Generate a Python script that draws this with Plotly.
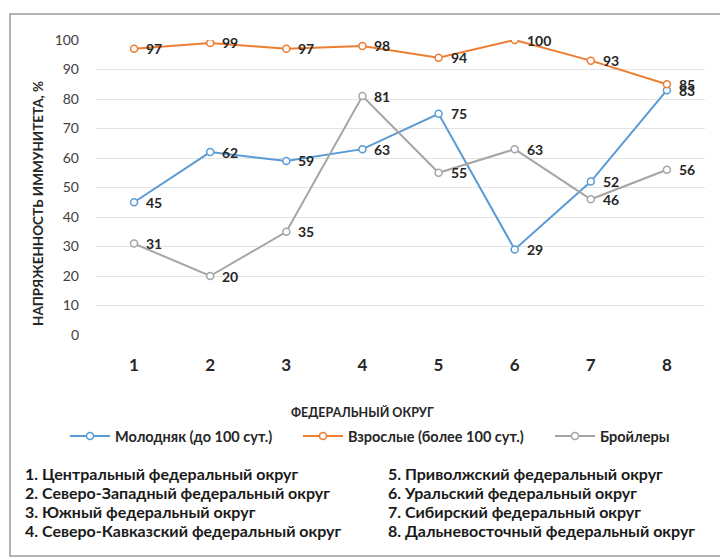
import plotly.graph_objects as go

# Federal districts (numbered) and immunity strength, %
districts = [1, 2, 3, 4, 5, 6, 7, 8]
young = [45, 62, 59, 63, 75, 29, 52, 83]
adult = [97, 99, 97, 98, 94, 100, 93, 85]
broilers = [31, 20, 35, 81, 55, 63, 46, 56]

series_names = ["Молодняк (до 100 сут.)", "Взрослые (более 100 сут.)", "Бройлеры"]
series_colors = ["#5B9BD5", "#ED7D31", "#A5A5A5"]

district_names = [
    "1. Центральный федеральный округ",
    "2. Северо-Западный федеральный округ",
    "3. Южный федеральный округ",
    "4. Северо-Кавказский федеральный округ",
    "5. Приволжский федеральный округ",
    "6. Уральский федеральный округ",
    "7. Сибирский федеральный округ",
    "8. Дальневосточный федеральный округ",
]

FONT = "Lato"
W, H = 720, 559
L, R, T, B = 96, 15, 40, 224
pw, ph = W - L - R, H - T - B


def px(x):
    return (x - L) / pw


def py(y):
    return (H - B - y) / ph


legend_ids = ["legend", "legend2", "legend3"]
legend_left = [65, 298, 550]

fig = go.Figure()
annotations = []
for name, vals, col, lg in zip(series_names, [young, adult, broilers], series_colors, legend_ids):
    fig.add_trace(go.Scatter(
        x=districts, y=vals, name=name, mode="lines+markers", legend=lg,
        line=dict(color=col, width=2),
        marker=dict(symbol="circle", size=7, color="white",
                    line=dict(color=col, width=1.5)),
    ))
    # value labels to the right of each point
    for d, v in zip(districts, vals):
        annotations.append(dict(
            x=d, y=v, xref="x", yref="y", text=str(v), showarrow=False,
            xanchor="left", yanchor="middle", xshift=10,
            font=dict(family=FONT, size=14, color="#262626", weight="bold"),
        ))

annotations.append(dict(
    text="НАПРЯЖЕННОСТЬ ИММУНИТЕТА, %", textangle=-90, x=px(38), y=py(204),
    xref="paper", yref="paper", showarrow=False, xanchor="center", yanchor="middle",
    font=dict(family=FONT, size=13.5, color="#262626", weight="bold")))
annotations.append(dict(
    text="ФЕДЕРАЛЬНЫЙ ОКРУГ", x=px(362), y=py(412), xref="paper", yref="paper",
    showarrow=False, font=dict(family=FONT, size=12.5, color="#262626", weight="bold"),
    xanchor="center", yanchor="middle"))
for i, t in enumerate(district_names):
    col = i // 4
    row = i % 4
    annotations.append(dict(
        text=t, x=px(23 if col == 0 else 386), y=py(473 + row * 19.3),
        xref="paper", yref="paper", showarrow=False, xanchor="left", yanchor="middle",
        font=dict(family=FONT, size=16, color="#1a1a1a", weight="bold"),
    ))

legend_style = dict(orientation="h", yanchor="middle", xanchor="left",
                    font=dict(family=FONT, size=14.5, color="#262626", weight="bold"),
                    itemwidth=40, bgcolor="rgba(0,0,0,0)")

fig.update_layout(
    width=W, height=H,
    margin=dict(l=L, r=R, t=T, b=B),
    paper_bgcolor="white", plot_bgcolor="white",
    showlegend=True,
    annotations=annotations,
    shapes=[dict(type="rect", xref="paper", yref="paper",
                 x0=px(10), x1=px(730), y0=py(556), y1=py(14),
                 line=dict(color="#9a9a9a", width=1.5), layer="below")],
    xaxis=dict(range=[0.5, 8.5], tickmode="array", tickvals=districts,
               ticktext=[str(d) for d in districts], showgrid=False, zeroline=False,
               showline=False, ticks="", ticklabelstandoff=18,
               tickfont=dict(family=FONT, size=17, color="#262626", weight="bold")),
    yaxis=dict(range=[0, 100], dtick=10, showgrid=True, gridcolor="#e3e3e3", gridwidth=1,
               zeroline=False, showline=False, ticks="", ticklabelstandoff=16,
               tickfont=dict(family=FONT, size=14, color="#404040")),
)
for lg, left in zip(legend_ids, legend_left):
    fig.update_layout({lg: dict(legend_style, x=px(left), y=py(436))})

fig.write_html("out.html")
